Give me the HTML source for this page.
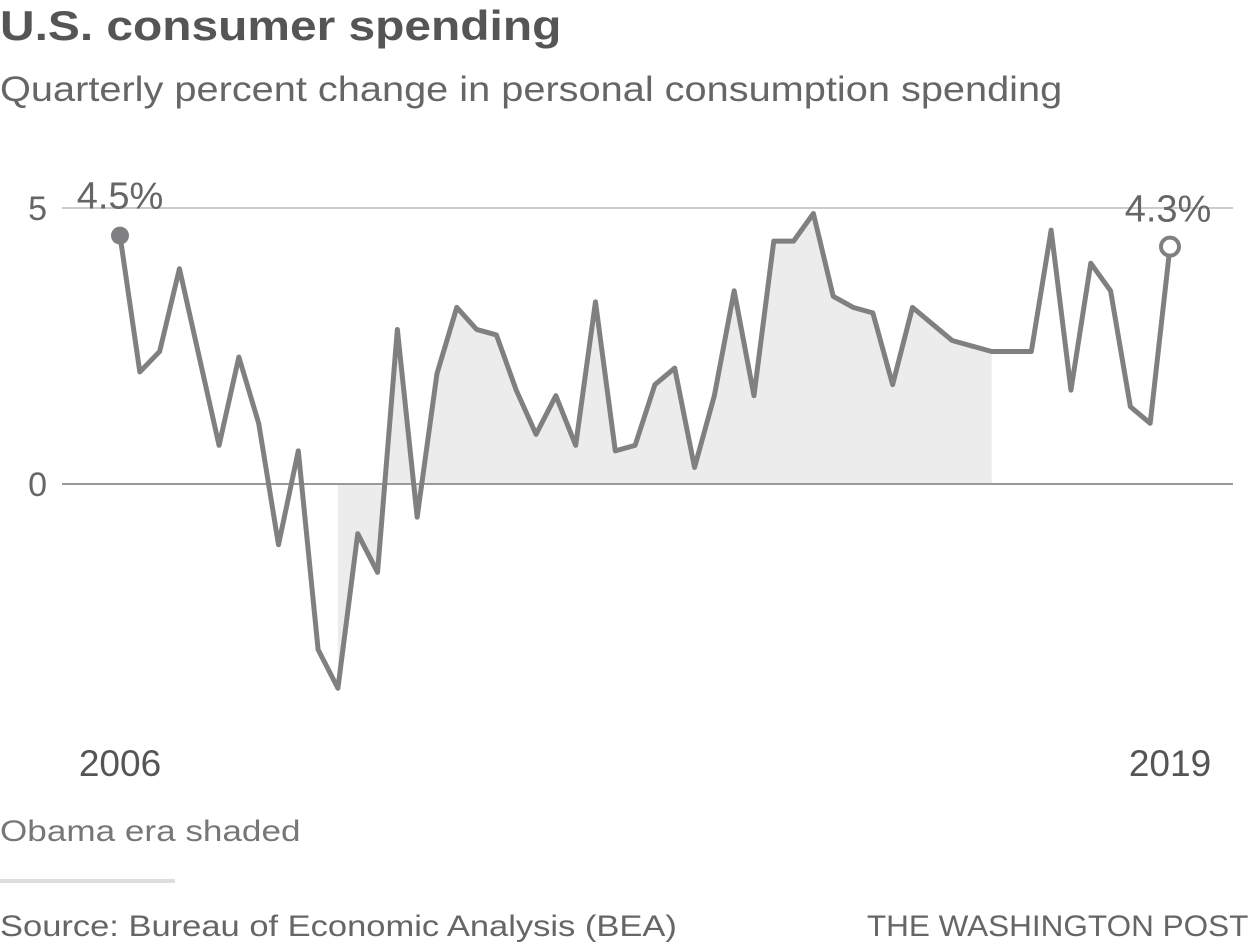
<!DOCTYPE html>
<html><head><meta charset="utf-8"><style>
body{margin:0;width:1250px;height:950px;background:#fff;font-family:"Liberation Sans",sans-serif;overflow:hidden;position:relative}
.t{position:absolute;white-space:nowrap;transform-origin:left top}
</style></head><body>
<div class="t" style="left:0;top:2px;font-size:42px;font-weight:bold;color:#555;transform:scaleX(1.14)">U.S. consumer spending</div>
<div class="t" style="left:0;top:70px;font-size:35px;color:#666;transform:scaleX(1.135)">Quarterly percent change in personal consumption spending</div>
<svg id="chart" width="1250" height="800" style="position:absolute;left:0;top:0"></svg>
<div class="t" style="left:0;top:815px;font-size:30px;color:#777;transform:scaleX(1.17)">Obama era shaded</div>
<div style="position:absolute;left:0;top:879px;width:175px;height:4px;background:#ddd"></div>
<div class="t" style="left:0;top:910px;font-size:30px;color:#666;transform:scaleX(1.15)">Source: Bureau of Economic Analysis (BEA)</div>
<div class="t" style="right:2px;top:910px;font-size:30px;color:#666;transform:scaleX(1.05);transform-origin:right top">THE WASHINGTON POST</div>
<script>
const values=[4.5,2.03,2.4,3.9,2.3,0.7,2.3,1.1,-1.1,0.6,-3.0,-3.7,-0.9,-1.6,2.8,-0.6,2.0,3.2,2.8,2.7,1.7,0.9,1.6,0.7,3.3,0.6,0.7,1.8,2.1,0.3,1.6,3.5,1.6,4.4,4.4,4.9,3.4,3.2,3.1,1.8,3.2,2.9,2.6,2.5,2.4,2.4,2.4,4.6,1.7,4.0,3.5,1.4,1.1,4.3];
const yTicks=[0,5];
const xLabels=["2006","2019"];
const shadeStart=11, shadeEnd=44;
const NS="http://www.w3.org/2000/svg";
const svg=document.getElementById('chart');
const x=i=>120+i*(1050/(values.length-1));
const y=v=>484-v*55.2;
function mk(t,a){const e=document.createElementNS(NS,t);for(const k in a)e.setAttribute(k,a[k]);svg.appendChild(e);return e;}
let d=`M${x(shadeStart)},${y(0)}`;
for(let i=shadeStart;i<=shadeEnd;i++)d+=` L${x(i)},${y(values[i])}`;
d+=` L${x(shadeEnd)},${y(0)} Z`;
let s=mk('path',{d:d,fill:'#ececec'});


yTicks.forEach(v=>{
 const g=mk('line',{x1:62,x2:1233,y1:y(v),y2:y(v),stroke:v===0?'#999':'#ccc','stroke-width':2});
 
 
 const t=mk('text',{x:47,y:y(v)+12,'text-anchor':'end','font-size':34,fill:'#666'});
 t.textContent=v;
 
 
});
let p='';values.forEach((v,i)=>p+=(i?' L':'M')+x(i)+','+y(v));
const ln=mk('path',{d:p,fill:'none',stroke:'#808083','stroke-width':5,'stroke-linejoin':'round'});


const c0=mk('circle',{cx:x(0),cy:y(values[0]),r:9,fill:'#808083'});


const n=values.length-1;
const c1=mk('circle',{cx:x(n),cy:y(values[n]),r:9,fill:'#fff',stroke:'#808083','stroke-width':4});


const l0=mk('text',{x:x(0),y:y(values[0])-27,'text-anchor':'middle','font-size':38,fill:'#666'});
l0.textContent=values[0].toFixed(1)+'%';


const l1=mk('text',{x:x(n)-2,y:y(values[n])-25,'text-anchor':'middle','font-size':38,fill:'#666'});
l1.textContent=values[n].toFixed(1)+'%';


[[0,xLabels[0]],[n,xLabels[1]]].forEach(([i,lab])=>{
 const t=mk('text',{x:x(i),y:776,'text-anchor':'middle','font-size':37,fill:'#555'});
 t.textContent=lab;
 
 
});
</script>
</body></html>
